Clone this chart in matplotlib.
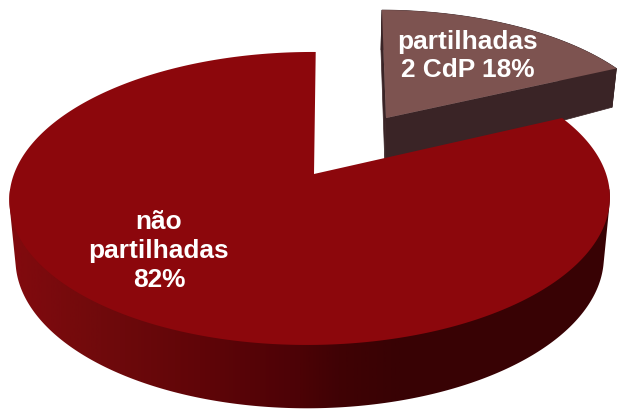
import numpy as np
import matplotlib
matplotlib.use('Agg')
import matplotlib.pyplot as plt
from matplotlib.colors import LinearSegmentedColormap, to_rgb
from matplotlib.patches import Polygon

# pie values, clockwise from 12 o'clock
shares = [18, 82]
labels = ['partilhadas\n2 CdP 18%', 'não\npartilhadas\n82%']
label_pos = [(468, 56), (159, 251)]

top_colors = ['#7d5350', '#8c070c']
side_dark = '#3a2426'
# gradient of the big slice's rim, by x pixel
rim_x = [20, 100, 200, 300, 340, 400]
rim_col = ['#800a0e', '#700a0c', '#600508', '#4c0206', '#400205', '#380204']

K, M = 0.167, 0.0133


def project(t, cx, cy, a, b, shear=0.0):
    u, v = np.sin(t), np.cos(t)
    w = 1 + K * v + M * u
    return cx + (a * u + shear * v) / w, cy - b * v / w


def convex_hull(pts):
    pts = sorted(set(map(tuple, pts)))

    def half(seq):
        out = []
        for p in seq:
            while len(out) > 1 and ((out[-1][0] - out[-2][0]) * (p[1] - out[-2][1])
                                    - (out[-1][1] - out[-2][1]) * (p[0] - out[-2][0])) <= 0:
                out.pop()
            out.append(p)
        return out[:-1]

    return np.array(half(pts) + half(pts[::-1]))


plt.rcParams['font.family'] = ['Liberation Sans', 'DejaVu Sans']
fig = plt.figure(figsize=(6.21, 4.09), dpi=100)
ax = fig.add_axes([0, 0, 1, 1])

angles = np.cumsum([0] + shares) / sum(shares) * 2 * np.pi

# small slice, pulled out
t = np.linspace(angles[0], angles[1], 80)
x1, y1 = project(t, 386, 118, 278, 126, -4.7)
x2, y2 = project(t, 385, 156, 274, 124, -4.7)
ax.fill([x1[0], x2[0], 385, 386], [y1[0], y2[0], 168, 118], color=side_dark, lw=0.5)
ax.fill(np.r_[x1, x2[::-1]], np.r_[y1, y2[::-1]], color=side_dark, lw=0.5)
ax.fill([386, x1[-1], x2[-1], 385], [118, y1[-1], y2[-1], 168], color=side_dark, lw=0.5)
ax.fill(np.r_[386, x1], np.r_[118, y1], color=top_colors[0], lw=0)

# big slice: rim gradient clipped to the rim outline, then the top face
t = np.linspace(angles[1], angles[2], 500)
x1, y1 = project(t, 314, 174, 296, 142.4, 2)
x2, y2 = project(t, 314, 233, 290, 146, 2)
front = np.cos(t) < -0.1
rim_poly = convex_hull(np.c_[np.r_[x1[front], x2[front]], np.r_[y1[front], y2[front]]])
patch = Polygon(rim_poly, closed=True, fc='none', ec='none', transform=ax.transData)
ax.add_patch(patch)
cmap = LinearSegmentedColormap.from_list(
    'rim', [((x - rim_x[0]) / (rim_x[-1] - rim_x[0]), to_rgb(c)) for x, c in zip(rim_x, rim_col)])
grad = np.linspace(0, 1, 400)[None, :]
# strip at left and right keeps the end colours
im = ax.imshow(grad, cmap=cmap, extent=(rim_x[0], rim_x[-1], 409, 0), aspect='auto', zorder=1)
im_l = ax.imshow(grad[:, :1], cmap=cmap, vmin=0, vmax=1, extent=(0, rim_x[0], 409, 0), aspect='auto', zorder=1)
im_r = ax.imshow(grad[:, -1:], cmap=cmap, vmin=0, vmax=1, extent=(rim_x[-1], 621, 409, 0), aspect='auto', zorder=1)
for i in (im, im_l, im_r):
    i.set_clip_path(patch)
ax.fill(np.r_[314, x1], np.r_[174, y1], color=top_colors[1], lw=0, zorder=2)

for lab, (px, py) in zip(labels, label_pos):
    ax.text(px, py, lab, color='white', fontsize=18.9, fontweight='bold',
            ha='center', va='center', linespacing=1.25, zorder=3)

ax.set_xlim(0, 621)
ax.set_ylim(409, 0)
ax.axis('off')

fig.savefig('out.png', dpi=100)
